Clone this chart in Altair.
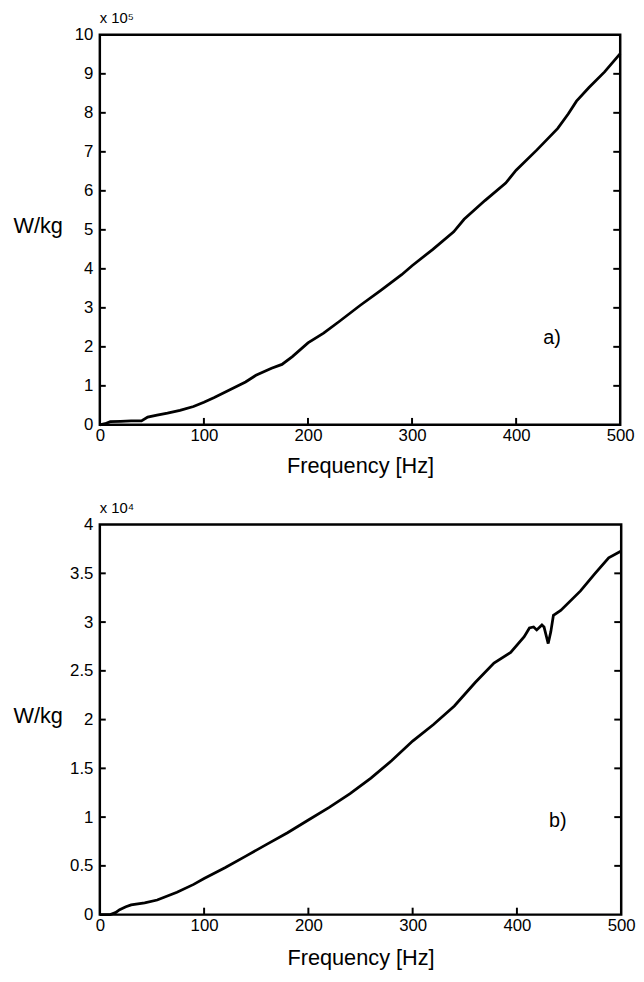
import altair as alt
import pandas as pd

# Panel a) data (W/kg, x 10^5)
freq_a = [0, 5, 10, 20, 30, 40, 46, 55, 65, 77, 90, 100, 110, 125, 140, 150, 165,
          175, 185, 200, 215, 230, 250, 270, 290, 300, 320, 340, 350, 370, 390,
          400, 420, 440, 450, 458, 470, 485, 500]
power_a = [0, 0.03, 0.08, 0.09, 0.1, 0.1, 0.2, 0.25, 0.3, 0.37, 0.47, 0.58, 0.7,
           0.9, 1.1, 1.27, 1.45, 1.55, 1.75, 2.1, 2.35, 2.65, 3.06, 3.45, 3.85,
           4.08, 4.5, 4.95, 5.27, 5.75, 6.2, 6.53, 7.05, 7.6, 7.97, 8.3, 8.65,
           9.05, 9.52]

# Panel b) data (W/kg, x 10^4)
freq_b = [0, 10, 15, 19, 25, 30, 43, 55, 74, 90, 100, 120, 140, 160, 180, 200,
          220, 240, 260, 280, 300, 320, 340, 360, 378, 394, 407, 412, 416, 419,
          424, 426, 430, 432.5, 435, 442, 461, 475, 488, 500]
power_b = [0, 0, 0.02, 0.05, 0.08, 0.1, 0.12, 0.15, 0.23, 0.31, 0.37, 0.48, 0.6,
           0.72, 0.84, 0.97, 1.1, 1.24, 1.4, 1.58, 1.78, 1.95, 2.14, 2.38, 2.58,
           2.69, 2.85, 2.94, 2.95, 2.92, 2.97, 2.95, 2.78, 2.9, 3.07, 3.12, 3.32,
           3.5, 3.66, 3.73]

x_ticks = [0, 100, 200, 300, 400, 500]
y_ticks_a = [0, 1, 2, 3, 4, 5, 6, 7, 8, 9, 10]
y_ticks_b = [0, 0.5, 1, 1.5, 2, 2.5, 3, 3.5, 4]

FONT = "Liberation Sans"


def panel(freq, power, yticks, ymax, yfmt, exp_label, tag, W, H, tag_dx, tag_dy,
          tpad):
    df = pd.DataFrame({"f": freq, "p": power})
    xs = alt.Scale(domain=[0, 500], nice=False, zero=False)
    ys = alt.Scale(domain=[0, ymax], nice=False, zero=False)
    xaxis = alt.Axis(values=x_ticks, ticks=False, domain=False, grid=False,
                     labelFlush=False, labelOverlap=False,
                     labelFont=FONT, labelFontSize=17, labelPadding=3,
                     title="Frequency [Hz]", titleFont=FONT, titleFontSize=22,
                     titleFontWeight="normal", titlePadding=tpad, labelColor="black",
                     titleColor="black")
    yaxis = alt.Axis(values=yticks, ticks=False, domain=False, grid=False,
                     labelFlush=False, labelOverlap=False,
                     format=yfmt, labelFont=FONT, labelFontSize=17, labelPadding=7,
                     title="W/kg", titleFont=FONT, titleFontSize=22,
                     titleFontWeight="normal", titleAngle=0, titleX=-88,
                     titleY=H / 2 + 8, titleAlign="left", labelColor="black",
                     titleColor="black")
    line = alt.Chart(df).mark_line(color="black", strokeWidth=2.8).encode(
        x=alt.X("f:Q", scale=xs, axis=xaxis),
        y=alt.Y("p:Q", scale=ys, axis=yaxis),
    )
    xt = pd.DataFrame({"t": x_ticks[1:-1]})
    yt = pd.DataFrame({"t": yticks[1:-1]})
    tb = alt.Chart(xt).mark_rule(color="black", strokeWidth=2).encode(
        x=alt.X("t:Q", scale=xs, axis=xaxis), y=alt.value(H), y2=alt.value(H - 7))
    tl = alt.Chart(yt).mark_rule(color="black", strokeWidth=2).encode(
        y=alt.Y("t:Q", scale=ys, axis=yaxis), x=alt.value(0), x2=alt.value(6))
    tr = alt.Chart(yt).mark_rule(color="black", strokeWidth=2).encode(
        y=alt.Y("t:Q", scale=ys, axis=yaxis), x=alt.value(W - 7), x2=alt.value(W))
    lab = pd.DataFrame({"s": [exp_label]})
    frame = alt.Chart(lab).mark_rect(fillOpacity=0, stroke="black",
                                     strokeWidth=2.5).encode(
        x=alt.value(0), x2=alt.value(W), y=alt.value(0), y2=alt.value(H))
    exp = alt.Chart(lab).mark_text(font=FONT, fontSize=15, align="left",
                                   baseline="alphabetic", color="black").encode(
        text="s:N", x=alt.value(0), y=alt.value(-12))
    tg = pd.DataFrame({"s": [tag]})
    tagm = alt.Chart(tg).mark_text(font=FONT, fontSize=20, align="left",
                                   baseline="middle", color="black").encode(
        text="s:N", x=alt.value(W - tag_dx), y=alt.value(H - tag_dy))
    return alt.layer(line, tb, tl, tr, frame, exp, tagm).properties(
        width=W, height=H)


top = panel(freq_a, power_a, y_ticks_a, 10, "d", "x 10\u2075", "a)", 527, 395,
            78, 88, 12)
bot = panel(freq_b, power_b, y_ticks_b, 4, "~g", "x 10\u2074", "b)", 528, 395,
            73, 95, 15)

chart = alt.vconcat(top, bot, spacing=23).properties(
    padding={"left": 4, "top": -4, "right": 0, "bottom": 0}
)

chart.save("out.html", embed_options={"renderer": "svg", "actions": False})
